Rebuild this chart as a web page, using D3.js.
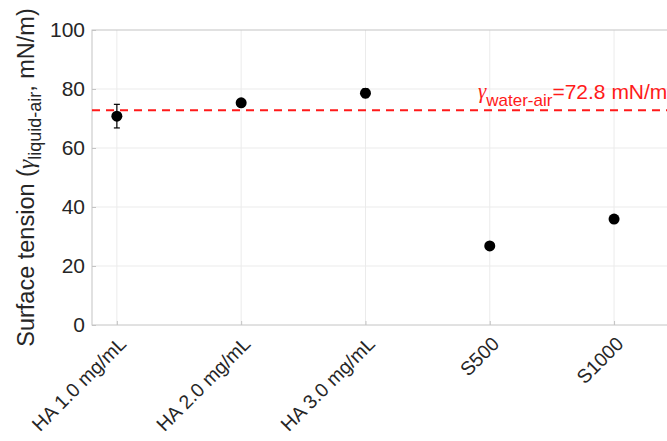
<!DOCTYPE html>
<html>
<head>
<meta charset="utf-8">
<script src="https://cdn.jsdelivr.net/npm/d3@7"></script>
<style>
  html, body { margin: 0; padding: 0; background: #fff; }
  svg { display: block; font-family: "Liberation Sans", Arial, Helvetica, sans-serif; }
</style>
</head>
<body>
<svg id="chart" width="667" height="441"></svg>
<script>
// Surface tension of each sample
const categories = ["HA 1.0 mg/mL", "HA 2.0 mg/mL", "HA 3.0 mg/mL", "S500", "S1000"];
const tension = [70.8, 75.3, 78.6, 26.8, 35.9];
const tensionErr = [4.0, 0.5, 1.5, 0.4, 0.5];
const waterAir = 72.8;
const yTicks = [0, 20, 40, 60, 80, 100];

const W = 667, H = 441;
const margin = { left: 92, top: 30, bottom: 116 };
const plotRight = 715; // axes box runs past the right edge of the page

const svg = d3.select("#chart");

const x = d3.scaleLinear().domain([0.8, 5.4]).range([margin.left, margin.left + 4.6 * 124.3]);
const y = d3.scaleLinear().domain([0, 100]).range([H - margin.bottom, margin.top]);

const idx = categories.map((c, i) => i + 1);

// grid
const grid = svg.append("g");
grid.selectAll("line.gy").data(yTicks.slice(1, -1)).join("line")
  .attr("x1", margin.left).attr("x2", plotRight)
  .attr("y1", d => y(d)).attr("y2", d => y(d))
  .attr("stroke", "#ebebeb").attr("stroke-width", 1);
grid.selectAll("line.gx").data(idx).join("line")
  .attr("x1", d => x(d)).attr("x2", d => x(d))
  .attr("y1", y(0)).attr("y2", y(100))
  .attr("stroke", "#ebebeb").attr("stroke-width", 1);

// axes box
svg.append("rect")
  .attr("x", margin.left).attr("y", y(100))
  .attr("width", plotRight - margin.left).attr("height", y(0) - y(100))
  .attr("fill", "none").attr("stroke", "#c4c4c4").attr("stroke-width", 1);

// y axis
const yAxis = d3.axisLeft(y).tickValues(yTicks).tickSizeInner(-4).tickSizeOuter(0).tickPadding(7);
const gy = svg.append("g").attr("transform", `translate(${margin.left},0)`).call(yAxis);
gy.select(".domain").remove();
gy.selectAll(".tick line").attr("stroke", "#c4c4c4");
gy.selectAll(".tick text").attr("font-size", 21).attr("fill", "#262626")
  .attr("font-family", "Liberation Sans, Arial, sans-serif");

// x axis
const xAxis = d3.axisBottom(x).tickValues(idx).tickFormat(d => categories[d - 1])
  .tickSizeInner(-4).tickSizeOuter(0);
const gx = svg.append("g").attr("transform", `translate(0,${y(0)})`).call(xAxis);
gx.select(".domain").remove();
gx.selectAll(".tick line").attr("stroke", "#c4c4c4");
gx.selectAll(".tick text")
  .attr("font-size", 19.5).attr("fill", "#262626")
  .attr("font-family", "Liberation Sans, Arial, sans-serif")
  .attr("text-anchor", "end")
  .attr("dy", null)
  .attr("transform", "translate(8,18) rotate(-45)");

// reference line for water-air
svg.append("line")
  .attr("x1", margin.left).attr("x2", plotRight)
  .attr("y1", y(waterAir)).attr("y2", y(waterAir))
  .attr("stroke", "#ff1a1a").attr("stroke-width", 2)
  .attr("stroke-dasharray", "8,6");

const lbl = svg.append("text")
  .attr("x", 478).attr("y", y(waterAir) - 11)
  .attr("fill", "#ff1a1a").attr("font-size", 21);
lbl.append("tspan").attr("font-family", "Liberation Serif, Times New Roman, serif")
  .attr("font-style", "italic").attr("dy", -1).text("γ");
lbl.append("tspan").attr("font-size", 17).attr("dy", 8).text("water-air");
lbl.append("tspan").attr("dy", -7).text("=" + waterAir + " mN/m");

// error bars and points
const pts = svg.append("g");
const data = idx.map((d, i) => ({ i: d, v: tension[i], e: tensionErr[i] }));
const capW = 3;
pts.selectAll("line.err").data(data).join("line")
  .attr("x1", d => x(d.i)).attr("x2", d => x(d.i))
  .attr("y1", d => y(d.v - d.e)).attr("y2", d => y(d.v + d.e))
  .attr("stroke", "#000").attr("stroke-width", 1.2);
pts.selectAll("line.capT").data(data).join("line")
  .attr("x1", d => x(d.i) - capW).attr("x2", d => x(d.i) + capW)
  .attr("y1", d => y(d.v + d.e)).attr("y2", d => y(d.v + d.e))
  .attr("stroke", "#000").attr("stroke-width", 1.2);
pts.selectAll("line.capB").data(data).join("line")
  .attr("x1", d => x(d.i) - capW).attr("x2", d => x(d.i) + capW)
  .attr("y1", d => y(d.v - d.e)).attr("y2", d => y(d.v - d.e))
  .attr("stroke", "#000").attr("stroke-width", 1.2);
pts.selectAll("circle").data(data).join("circle")
  .attr("cx", d => x(d.i)).attr("cy", d => y(d.v)).attr("r", 5.5)
  .attr("fill", "#000");

// y axis title
const yt = svg.append("text")
  .attr("transform", `translate(34,${(y(0) + y(100)) / 2}) rotate(-90)`)
  .attr("text-anchor", "middle").attr("fill", "#262626").attr("font-size", 23.5);
yt.append("tspan").text("Surface tension (");
yt.append("tspan").attr("font-family", "Liberation Serif, Times New Roman, serif")
  .attr("font-style", "italic").text("γ");
yt.append("tspan").attr("font-size", 18).attr("dy", 7).text("liquid-air");
yt.append("tspan").attr("dy", -7).text(", mN/m)");
</script>
</body>
</html>
